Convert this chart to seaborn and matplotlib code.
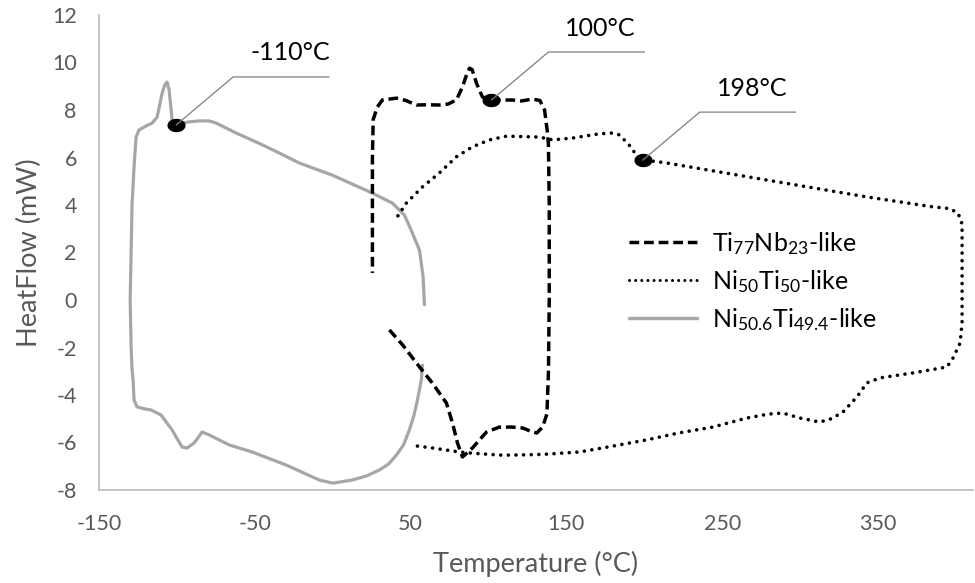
import numpy as np
import pandas as pd
import matplotlib
matplotlib.use("Agg")
import matplotlib.pyplot as plt
from matplotlib.path import Path
from matplotlib.lines import Line2D
import seaborn as sns

# ---------------- data ----------------
gray_x = [58.9, 58.0, 55.7, 50.0, 46.0, 38.3, 25.5, 0.0, -21.5, -34.3, -48.0, -62.0, -74.8,
          -79.3, -86.0, -92.2, -97.0, -100.5, -103.1, -103.7, -105.0, -106.3, -107.8,
          -109.5, -112.7, -115.9, -120.0, -124.3, -126.2, -127.5, -128.8, -129.4, -130.0,
          -129.4, -128.8, -128.1, -127.5, -125.6, -121.0, -116.6, -110.2, -103.1, -96.7,
          -93.4, -88.9, -83.8, -79.3, -66.5, -51.7, -29.8, -8.6, 0.0, 12.6, 22.0, 29.9,
          36.0, 40.9, 45.5, 49.2, 52.0, 54.4, 56.9, 57.6]
gray_y = [-0.2, 1.0, 2.1, 3.0, 3.58, 4.08, 4.5, 5.25, 5.77, 6.19, 6.62, 7.03, 7.45,
          7.54, 7.54, 7.5, 7.45, 7.37, 7.58, 8.0, 8.84, 9.18, 9.05,
          8.7, 7.7, 7.45, 7.32, 7.16, 6.86, 5.6, 4.0, 2.0, 0.0,
          -1.98, -2.9, -3.37, -4.21, -4.5, -4.58, -4.63, -4.84, -5.47, -6.19,
          -6.23, -6.02, -5.56, -5.68, -6.1, -6.4, -6.95, -7.58, -7.71, -7.58, -7.4, -7.16,
          -6.9, -6.53, -6.1, -5.47, -4.9, -4.21, -3.37, -2.74]

dash_x = [36.4, 45.0, 53.7, 64.0, 73.0, 76.9, 80.1, 83.3, 89.7, 98.7, 107.0, 115.0, 122.0,
          128.0, 131.0, 134.7, 137.5, 138.5, 139.0, 139.0, 138.5, 137.9, 136.0, 133.0,
          128.3, 121.0, 115.4, 108.0, 101.9, 96.1, 92.3, 89.5, 87.8, 85.5, 83.3, 79.4,
          74.0, 68.5, 61.0, 53.7, 47.0, 40.9, 35.5, 31.9, 28.7, 26.0, 25.5, 25.5, 25.5]
dash_y = [-1.26, -1.9, -2.65, -3.5, -4.34, -5.18, -6.02, -6.61, -6.23, -5.56, -5.35, -5.35, -5.39,
          -5.55, -5.6, -5.35, -4.8, -3.0, 0.0, 4.0, 6.5, 7.03, 8.0, 8.4,
          8.46, 8.38, 8.42, 8.42, 8.42, 8.55, 9.13, 9.7, 9.76, 9.4, 8.97, 8.42,
          8.25, 8.21, 8.22, 8.21, 8.4, 8.5, 8.45, 8.42, 8.13, 7.6, 6.0, 3.0, 1.14]

dot_x = [54.4, 64.0, 81.4, 89.7, 107.0, 115.4, 135.0, 158.5, 180.0, 201.5, 222.0, 244.0,
         265.8, 280.0, 289.0, 299.9, 312.7, 320.0, 327.5, 336.5, 342.9, 351.3, 372.5,
         394.3, 398.2, 402.7, 404.0, 404.0, 404.0, 404.0, 401.4, 396.0, 385.4, 342.9,
         278.7, 214.4, 199.0, 195.0, 190.6, 184.2, 179.7, 171.3, 154.0, 141.0, 132.8,
         111.6, 100.6, 89.7, 79.4, 68.5, 57.6, 47.3, 40.9]
dot_y = [-6.15, -6.23, -6.4, -6.45, -6.53, -6.53, -6.5, -6.4, -6.15, -5.89, -5.6, -5.35,
         -4.97, -4.8, -4.76, -4.97, -5.14, -5.0, -4.72, -4.08, -3.49, -3.28, -3.07,
         -2.82, -2.44, -1.81, -0.97, 0.84, 2.5, 3.2, 3.66, 3.85, 3.92, 4.34,
         5.05, 5.77, 5.9, 6.1, 6.5, 6.95, 7.03, 7.0, 6.82, 6.74, 6.86,
         6.9, 6.74, 6.45, 6.03, 5.35, 4.76, 4.08, 3.45]

series_labels = [r"Ti$_{77}$Nb$_{23}$-like", r"Ni$_{50}$Ti$_{50}$-like", r"Ni$_{50.6}$Ti$_{49.4}$-like"]

ann_x = [-100.5, 101.9, 199.0]
ann_y = [7.37, 8.42, 5.89]
ann_labels = ["-110°C", "100°C", "198°C"]

x_ticks = [-150, -50, 50, 150, 250, 350]
y_ticks = [-8, -6, -4, -2, 0, 2, 4, 6, 8, 10, 12]

# ---------------- style ----------------
sns.set_theme(style="white")
plt.rcParams["font.family"] = ["Lato", "DejaVu Sans"]
plt.rcParams["mathtext.fontset"] = "custom"
plt.rcParams["mathtext.rm"] = "Lato"
plt.rcParams["mathtext.it"] = "Lato:italic"
plt.rcParams["mathtext.bf"] = "Lato:bold"

TXT = "#595959"
SPINE = "#BFBFBF"
GRAY = "#A6A6A6"

fig = plt.figure(figsize=(9.75, 5.83), dpi=100)
ax = fig.add_axes([99 / 975, 1 - 490 / 583, 874 / 975, 475 / 583])

df_dash = pd.DataFrame({"x": dash_x, "y": dash_y})
df_dot = pd.DataFrame({"x": dot_x, "y": dot_y})
df_gray = pd.DataFrame({"x": gray_x, "y": gray_y})

sns.lineplot(data=df_gray, x="x", y="y", sort=False, estimator=None, ax=ax,
             color=GRAY, lw=2.3, zorder=2)
sns.lineplot(data=df_dash, x="x", y="y", sort=False, estimator=None, ax=ax,
             color="black", lw=2.5, zorder=3)
sns.lineplot(data=df_dot, x="x", y="y", sort=False, estimator=None, ax=ax,
             color="black", lw=2.6, zorder=3)
lines = ax.get_lines()
lines[0].set_solid_joinstyle("round")
lines[1].set_dashes([2.8, 1.4])
lines[2].set_dashes([0.01, 2.1])
lines[2].set_dash_capstyle("round")

ax.set_xlim(-150, 411)
ax.set_ylim(-8, 12)
ax.set_xticks(x_ticks)
ax.set_yticks(y_ticks)
ax.set_xticklabels([str(v) for v in x_ticks])
ax.set_yticklabels([str(v) for v in y_ticks])
ax.tick_params(axis="both", length=0, labelsize=15.5, colors=TXT)
ax.tick_params(axis="y", pad=16)
ax.tick_params(axis="x", pad=17)
for s in ["top", "right"]:
    ax.spines[s].set_visible(False)
for s in ["left", "bottom"]:
    ax.spines[s].set_color(SPINE)
    ax.spines[s].set_linewidth(1.3)
ax.grid(False)
ax.set_xlabel("Temperature (°C)", fontsize=19.5, color=TXT, labelpad=12.5)
ax.set_ylabel("HeatFlow (mW)", fontsize=19.5, color=TXT, labelpad=7)

# annotation markers (elliptical dots) with leader lines and labels
t = np.linspace(0, 2 * np.pi, 60)
ell = Path(np.column_stack([np.cos(t), 0.72 * np.sin(t)]), closed=True)
ax.plot(ann_x, ann_y, linestyle="none", marker=ell, markersize=12,
        color="black", zorder=5)

fig.canvas.draw()
elbow = (57, 48)
end_dx = 153
txt_off = (74, 72)
for xv, yv, lab in zip(ann_x, ann_y, ann_labels):
    px, py = ax.transData.transform((xv, yv))
    xs = [px, px + elbow[0], px + end_dx]
    ys = [py, py + elbow[1], py + elbow[1]]
    fx = [v / fig.bbox.width for v in xs]
    fy = [v / fig.bbox.height for v in ys]
    fig.add_artist(Line2D(fx, fy, transform=fig.transFigure, color="#7F7F7F",
                          lw=0.9, zorder=4))
    fig.text((px + txt_off[0]) / fig.bbox.width, (py + txt_off[1]) / fig.bbox.height,
             lab, ha="left", va="center", fontsize=18, color="black")

handles = [
    Line2D([], [], color="black", lw=2.5, dashes=[2.8, 1.4]),
    Line2D([], [], color="black", lw=2.2, dashes=[0.01, 2.0], dash_capstyle="round"),
    Line2D([], [], color=GRAY, lw=2.5),
]
leg = fig.legend(handles, series_labels, loc="upper left",
                 bbox_to_anchor=(629 / 975, 1 - 230 / 583), frameon=False,
                 fontsize=18, handlelength=2.72, handletextpad=0.6,
                 labelspacing=0.44, borderpad=0, borderaxespad=0)
for txt in leg.get_texts():
    txt.set_color("black")

fig.savefig("out.png", dpi=100)
